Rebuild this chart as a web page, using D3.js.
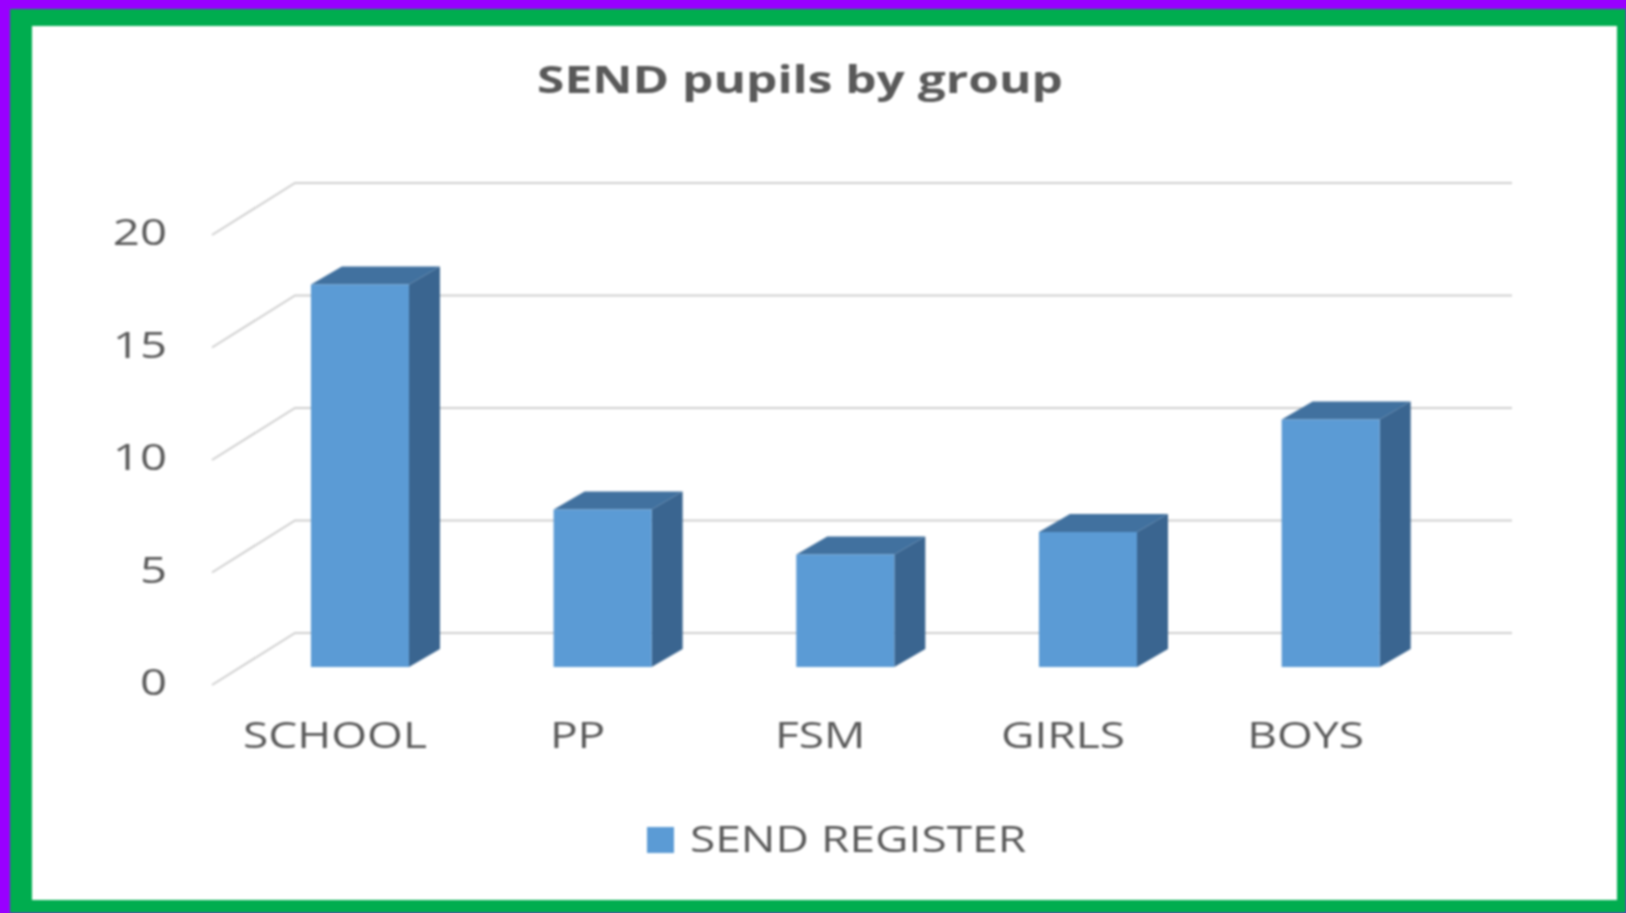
<!DOCTYPE html>
<html>
<head>
<meta charset="utf-8">
<script src="https://cdn.jsdelivr.net/npm/d3@7"></script>
<style>
  html, body { margin: 0; padding: 0; background: #9900ff; overflow: hidden; }
  svg { display: block; filter: blur(0.8px); }
  text { fill: #595959; }
</style>
</head>
<body>
<div id="d3-container"></div>
<script>
/**
 * CONSTANTS AND GLOBALS
 * */
const width = 1626,
  height = 913;

const categories = ["SCHOOL", "PP", "FSM", "GIRLS", "BOYS"];
const sendRegister = [17, 7, 5, 6, 11];
const yTicks = [0, 5, 10, 15, 20];
const seriesName = "SEND REGISTER";
const chartTitle = "SEND pupils by group";

const frontColor = "#5b9bd5",
  sideColor = "#3a6590",
  topColor = "#41719f",
  gridColor = "#cfcfcf",
  green = "#00ad4f";

const fontName = '"Open Sans", "Noto Sans", sans-serif';

// the text in the picture is stretched sideways, the whole image was
const textStretch = 1.28;

// how far the bars and the walls are pushed back for the fake 3d look
const barDepth = { x: 31, y: -18 };
const floorFront = { x: 212, y: 18 };
const floorBack = { x: 295, y: -34 };
const gridRight = 1512;

function stretchText(selection, factor = textStretch) {
  selection.each(function() {
    d3.select(this)
      .attr("textLength", this.getComputedTextLength() * factor)
      .attr("lengthAdjust", "spacingAndGlyphs");
  });
}

const svg = d3.select("#d3-container")
  .append("svg")
  .attr("width", width)
  .attr("height", height);

// frame
svg.append("rect")
  .attr("x", 10).attr("y", 9)
  .attr("width", width - 10).attr("height", height - 9)
  .attr("fill", green);

svg.append("rect")
  .attr("x", 32).attr("y", 26)
  .attr("width", 1585).attr("height", 874)
  .attr("fill", "#fff");

/**
 * SCALES
 * */
const x = d3.scaleBand()
  .domain(categories)
  .range([238.6, 1452])
  .paddingInner(0.596)
  .paddingOuter(0.298);

const y = d3.scaleLinear()
  .domain([0, 20])
  .range([667, 217]);

// title
svg.append("text")
  .attr("x", 800)
  .attr("y", 80)
  .attr("dy", "0.35em")
  .attr("text-anchor", "middle")
  .attr("font-family", fontName)
  .attr("font-size", 37)
  .attr("font-weight", 700)
  .text(chartTitle)
  .call(stretchText, 1.34);

// gridlines, floor/side part then back wall part
const grid = svg.append("g")
  .attr("fill", "none")
  .attr("stroke", gridColor)
  .attr("stroke-width", 2);

grid.selectAll("path")
  .data(yTicks)
  .join("path")
  .attr("d", d => `M${floorFront.x},${y(d) + floorFront.y}L${floorBack.x},${y(d) + floorBack.y}H${gridRight}`);

// y axis labels
const yAxis = svg.append("g")
  .attr("transform", `translate(167,16)`)
  .call(d3.axisLeft(y).tickValues(yTicks).tickSize(0).tickPadding(0));
yAxis.select(".domain").remove();
yAxis.attr("font-family", fontName).attr("font-size", 37);
yAxis.selectAll("text")
  .style("fill", "#595959")
  .call(stretchText);

// x axis labels sit a bit left of the bars
const xAxis = svg.append("g")
  .attr("transform", `translate(-25,722)`)
  .call(d3.axisBottom(x).tickSize(0).tickPadding(0));
xAxis.select(".domain").remove();
xAxis.attr("font-family", fontName).attr("font-size", 36);
xAxis.selectAll("text")
  .style("fill", "#595959")
  .call(stretchText);

/**
 * BARS
 * */
const bar = svg.selectAll("g.bar")
  .data(categories.map((c, i) => ({ category: c, value: sendRegister[i] })))
  .join("g")
  .attr("class", "bar");

// side face
bar.append("path")
  .attr("fill", sideColor)
  .attr("d", d => {
    const x1 = x(d.category) + x.bandwidth();
    return `M${x1},${y(0)}L${x1},${y(d.value)}l${barDepth.x},${barDepth.y}L${x1 + barDepth.x},${y(0) + barDepth.y}Z`;
  });

// top face
bar.append("path")
  .attr("fill", topColor)
  .attr("d", d => {
    const x0 = x(d.category), x1 = x0 + x.bandwidth();
    return `M${x0},${y(d.value)}L${x1},${y(d.value)}l${barDepth.x},${barDepth.y}L${x0 + barDepth.x},${y(d.value) + barDepth.y}Z`;
  });

// front face
bar.append("rect")
  .attr("fill", frontColor)
  .attr("x", d => x(d.category))
  .attr("y", d => y(d.value))
  .attr("width", x.bandwidth())
  .attr("height", d => y(0) - y(d.value));

/**
 * LEGEND
 * */
svg.append("rect")
  .attr("x", 647).attr("y", 827)
  .attr("width", 27).attr("height", 26)
  .attr("fill", frontColor);

svg.append("text")
  .attr("x", 690)
  .attr("y", 839)
  .attr("dy", "0.35em")
  .attr("font-family", fontName)
  .attr("font-size", 36)
  .text(seriesName)
  .call(stretchText);
</script>
</body>
</html>
